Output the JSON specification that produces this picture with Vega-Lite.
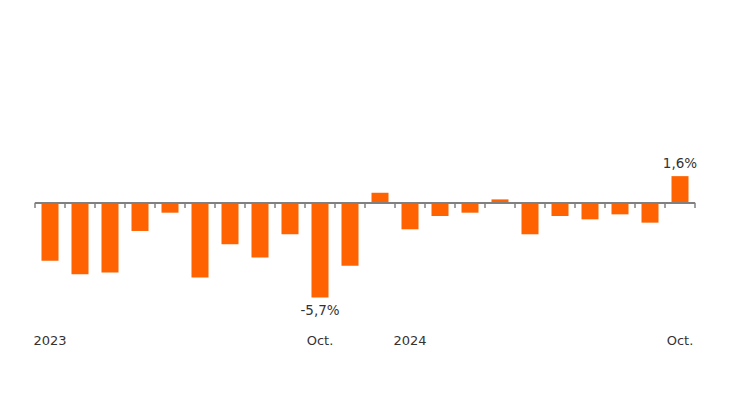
{
  "$schema": "https://vega.github.io/schema/vega-lite/v6.json",
  "width": 660,
  "height": 299,
  "autosize": {"type": "none"},
  "padding": {"left": 35, "top": 20, "right": 49, "bottom": 95},
  "background": "white",
  "config": {"view": {"stroke": null}, "font": "DejaVu Sans"},
  "data": {
    "values": [
      {"month": "2023-01", "value": -3.5, "label": ""},
      {"month": "2023-02", "value": -4.3, "label": ""},
      {"month": "2023-03", "value": -4.2, "label": ""},
      {"month": "2023-04", "value": -1.7, "label": ""},
      {"month": "2023-05", "value": -0.6, "label": ""},
      {"month": "2023-06", "value": -4.5, "label": ""},
      {"month": "2023-07", "value": -2.5, "label": ""},
      {"month": "2023-08", "value": -3.3, "label": ""},
      {"month": "2023-09", "value": -1.9, "label": ""},
      {"month": "2023-10", "value": -5.7, "label": "-5,7%"},
      {"month": "2023-11", "value": -3.8, "label": ""},
      {"month": "2023-12", "value": 0.6, "label": ""},
      {"month": "2024-01", "value": -1.6, "label": ""},
      {"month": "2024-02", "value": -0.8, "label": ""},
      {"month": "2024-03", "value": -0.6, "label": ""},
      {"month": "2024-04", "value": 0.2, "label": ""},
      {"month": "2024-05", "value": -1.9, "label": ""},
      {"month": "2024-06", "value": -0.8, "label": ""},
      {"month": "2024-07", "value": -1.0, "label": ""},
      {"month": "2024-08", "value": -0.7, "label": ""},
      {"month": "2024-09", "value": -1.2, "label": ""},
      {"month": "2024-10", "value": 1.6, "label": "1,6%"}
    ]
  },
  "encoding": {
    "x": {
      "field": "month",
      "type": "ordinal",
      "scale": {"paddingInner": 0, "paddingOuter": 0},
      "axis": {
        "title": null,
        "domain": false,
        "ticks": false,
        "labelAngle": 0,
        "labelFontSize": 13,
        "labelColor": "#333333",
        "labelBaseline": "alphabetic",
        "labelPadding": 25,
        "labelExpr": "datum.value == '2023-01' ? '2023' : datum.value == '2023-10' ? 'Oct.' : datum.value == '2024-01' ? '2024' : datum.value == '2024-10' ? 'Oct.' : ''"
      }
    }
  },
  "layer": [
    {
      "mark": {"type": "bar", "color": "#FF6200", "width": {"band": 0.567}},
      "encoding": {
        "y": {
          "field": "value",
          "type": "quantitative",
          "scale": {"domain": [-7, 11], "nice": false, "zero": true},
          "axis": null
        }
      }
    },
    {
      "mark": {"type": "rule", "color": "#808080", "strokeWidth": 1.5},
      "encoding": {
        "x": null,
        "y": {"datum": 0, "type": "quantitative"}
      }
    },
    {
      "mark": {"type": "rule", "color": "#808080", "strokeWidth": 1.5},
      "encoding": {
        "x": {"field": "month", "type": "ordinal", "bandPosition": 0},
        "y": {"datum": 0, "type": "quantitative"},
        "y2": {"datum": -0.32}
      }
    },
    {
      "transform": [{"filter": "datum.month == '2024-10'"}],
      "mark": {"type": "rule", "color": "#808080", "strokeWidth": 1.5},
      "encoding": {
        "x": {"field": "month", "type": "ordinal", "bandPosition": 1},
        "y": {"datum": 0, "type": "quantitative"},
        "y2": {"datum": -0.32}
      }
    },
    {
      "transform": [{"filter": "datum.label != '' && datum.value < 0"}],
      "mark": {"type": "text", "baseline": "alphabetic", "dy": 18, "fontSize": 13.5, "color": "#333333"},
      "encoding": {
        "y": {"field": "value", "type": "quantitative"},
        "text": {"field": "label"}
      }
    },
    {
      "transform": [{"filter": "datum.label != '' && datum.value > 0"}],
      "mark": {"type": "text", "baseline": "alphabetic", "dy": -8, "fontSize": 13.5, "color": "#333333"},
      "encoding": {
        "y": {"field": "value", "type": "quantitative"},
        "text": {"field": "label"}
      }
    }
  ]
}
